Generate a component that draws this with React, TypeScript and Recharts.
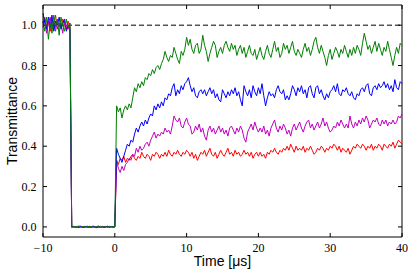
import React from 'react'
import {
  LineChart,
  Line,
  XAxis,
  YAxis,
  ReferenceLine,
} from 'recharts'

// sampling grid, 0.25 µs
const time = Array.from({ length: 201 }, (_, i) => -10 + i * 0.25)

const xTicks = [-10, 0, 10, 20, 30, 40]
const yTicks = [0, 0.2, 0.4, 0.6, 0.8, 1.0]
const xDomain = [-10, 40]
const yDomain = [-0.05, 1.1]

// before pulse (-10..-6.25), pulse (-6..0), recovery (0.25..40)
const green = [
  1.02, 0.97, 1.04, 0.93, 1.01, 0.96, 1.05, 0.99, 1.03, 0.95, 1.04, 1.0, 0.97, 1.03, 0.99, 1.01,
  0.002, -0.001, 0.001, 0.003, 0.0, -0.002, 0.001, 0.002, -0.001, 0.0, 0.003, 0.001, -0.002, 0.0, 0.002, 0.001,
  -0.001, 0.003, 0.0, 0.001, -0.002, 0.002, 0.0, 0.001, 0.0,
  0.6, 0.57, 0.59, 0.54, 0.58, 0.6, 0.58, 0.61,
  0.59, 0.64, 0.69, 0.67, 0.71, 0.69, 0.72, 0.7,
  0.74, 0.73, 0.76, 0.75, 0.78, 0.76, 0.79, 0.8,
  0.78, 0.81, 0.83, 0.87, 0.84, 0.82, 0.85, 0.84,
  0.89, 0.86, 0.83, 0.81, 0.87, 0.85, 0.88, 0.94,
  0.9, 0.93, 0.88, 0.86, 0.9, 0.91, 0.86, 0.88,
  0.95, 0.9, 0.87, 0.82, 0.86, 0.89, 0.92, 0.9,
  0.84, 0.87, 0.89, 0.86, 0.9, 0.92, 0.89, 0.87,
  0.91, 0.88, 0.9, 0.85, 0.88, 0.9, 0.86, 0.89,
  0.84, 0.87, 0.9, 0.86, 0.85, 0.88, 0.83, 0.86,
  0.89, 0.85, 0.83, 0.87, 0.9, 0.86, 0.84, 0.88,
  0.92, 0.87, 0.89, 0.84, 0.86, 0.91, 0.88, 0.9,
  0.86, 0.89, 0.92, 0.87, 0.85, 0.88, 0.86, 0.84,
  0.88, 0.91, 0.87, 0.89, 0.85, 0.88, 0.92, 0.94,
  0.89, 0.86, 0.9, 0.87, 0.84, 0.8, 0.85, 0.88,
  0.83, 0.86, 0.89, 0.87, 0.84, 0.88, 0.86, 0.9,
  0.87, 0.84, 0.88, 0.85, 0.89, 0.86, 0.9, 0.88,
  0.85, 0.91, 0.96, 0.92, 0.88, 0.9, 0.86, 0.89,
  0.92, 0.87, 0.91, 0.88, 0.85, 0.89, 0.87, 0.92,
  0.88, 0.84, 0.8, 0.85, 0.89, 0.86, 0.91, 0.9,
]

const blue = [
  1.06, 1.01, 0.98, 1.04, 0.99, 1.05, 0.97, 1.02, 1.0, 1.04, 0.98, 1.01, 1.03, 0.97, 1.0, 0.98,
  -0.003, 0.001, -0.002, 0.0, -0.004, 0.002, -0.001, -0.003, 0.001, -0.002, 0.0, -0.003, 0.001, -0.001, -0.004, 0.0,
  -0.002, 0.001, -0.003, -0.001, 0.002, -0.002, 0.0, -0.001, 0.0,
  0.39, 0.36, 0.34, 0.32, 0.35, 0.38, 0.41, 0.4,
  0.43, 0.42, 0.46, 0.49, 0.47, 0.5, 0.52, 0.5,
  0.53, 0.51, 0.54, 0.56, 0.55, 0.6, 0.58, 0.61,
  0.59, 0.62, 0.6, 0.64, 0.63, 0.66, 0.65, 0.69,
  0.71, 0.65, 0.68, 0.66, 0.7, 0.68, 0.71, 0.72,
  0.74, 0.7, 0.67, 0.69, 0.65, 0.64, 0.67, 0.68,
  0.66, 0.68, 0.65, 0.67, 0.69, 0.66, 0.68, 0.64,
  0.66, 0.63, 0.62, 0.68, 0.66, 0.64, 0.67, 0.65,
  0.68, 0.66, 0.69, 0.65, 0.67, 0.63, 0.6, 0.7,
  0.67, 0.65, 0.68, 0.64, 0.7, 0.67, 0.65, 0.69,
  0.66, 0.71, 0.65, 0.6, 0.64, 0.67, 0.65, 0.66,
  0.64, 0.68, 0.7, 0.67, 0.66, 0.68, 0.63, 0.65,
  0.63, 0.66, 0.7, 0.68, 0.65, 0.69, 0.67, 0.7,
  0.66, 0.68, 0.64, 0.69, 0.7, 0.66, 0.64, 0.69,
  0.7, 0.66, 0.68, 0.65, 0.63, 0.66, 0.64, 0.67,
  0.68, 0.7, 0.67, 0.71, 0.66, 0.65, 0.68, 0.67,
  0.69, 0.66, 0.65, 0.67, 0.64, 0.63, 0.66, 0.65,
  0.68, 0.69, 0.67, 0.7, 0.71, 0.66, 0.65, 0.69,
  0.7, 0.68, 0.71, 0.69, 0.7, 0.72, 0.69, 0.71,
  0.68, 0.7, 0.67, 0.73, 0.69, 0.68, 0.72, 0.71,
]

const magenta = [
  0.99, 1.03, 0.96, 1.01, 1.04, 0.98, 1.02, 0.97, 1.03, 0.99, 1.01, 0.96, 1.02, 1.0, 0.98, 1.01,
  0.004, 0.0, 0.002, -0.002, 0.005, 0.001, -0.001, 0.003, 0.0, 0.004, -0.002, 0.001, 0.003, -0.001, 0.002, 0.005,
  0.0, -0.002, 0.003, 0.001, 0.004, -0.001, 0.002, 0.0, 0.0,
  0.33, 0.29, 0.27, 0.3, 0.28, 0.31, 0.32, 0.34,
  0.33, 0.36, 0.35, 0.39, 0.37, 0.4, 0.38, 0.39,
  0.41, 0.42, 0.4, 0.43, 0.45, 0.47, 0.44, 0.46,
  0.45, 0.47, 0.46, 0.49, 0.47, 0.48, 0.46, 0.5,
  0.55, 0.53, 0.52, 0.54, 0.5, 0.49, 0.52, 0.54,
  0.51, 0.5, 0.46, 0.47, 0.5, 0.48, 0.51, 0.47,
  0.49, 0.45, 0.43, 0.48, 0.5, 0.47, 0.49, 0.46,
  0.48, 0.5, 0.47, 0.49, 0.46, 0.48, 0.45, 0.49,
  0.5, 0.48, 0.46, 0.49, 0.47, 0.5, 0.48, 0.44,
  0.42, 0.47, 0.49, 0.51, 0.48, 0.52, 0.49, 0.47,
  0.49, 0.47, 0.5, 0.46, 0.48, 0.45, 0.49, 0.51,
  0.53, 0.49, 0.47, 0.5, 0.48, 0.51, 0.49, 0.46,
  0.48, 0.45, 0.49, 0.51, 0.48, 0.5, 0.52, 0.49,
  0.47, 0.5, 0.52, 0.53, 0.49, 0.51, 0.48, 0.5,
  0.52, 0.49, 0.51, 0.54, 0.5, 0.52, 0.49, 0.47,
  0.48, 0.5, 0.49, 0.52, 0.5, 0.53, 0.51, 0.49,
  0.51, 0.49, 0.55, 0.51, 0.49, 0.52, 0.5, 0.53,
  0.51, 0.54, 0.52, 0.55, 0.53, 0.49, 0.51, 0.53,
  0.52, 0.54, 0.51, 0.5, 0.53, 0.51, 0.53, 0.5,
  0.52, 0.51, 0.53, 0.51, 0.52, 0.55, 0.54, 0.56,
]

const red = [
  1.01, 1.04, 0.99, 1.02, 0.97, 1.03, 1.0, 1.05, 0.98, 1.01, 0.99, 1.03, 1.0, 0.98, 1.02, 0.99,
  0.001, 0.003, -0.001, 0.002, 0.0, 0.004, -0.002, 0.001, 0.003, 0.0, -0.001, 0.002, 0.004, 0.0, 0.001, -0.002,
  0.003, 0.001, 0.0, 0.002, -0.001, 0.003, 0.001, 0.0, 0.0,
  0.33, 0.31, 0.34, 0.33, 0.35, 0.32, 0.34, 0.33,
  0.35, 0.36, 0.34, 0.33, 0.35, 0.34, 0.37, 0.35,
  0.34, 0.36, 0.35, 0.33, 0.36, 0.35, 0.37, 0.36,
  0.34, 0.36, 0.35, 0.37, 0.35, 0.38, 0.36, 0.35,
  0.37, 0.36, 0.38, 0.36, 0.35, 0.37, 0.36, 0.38,
  0.37, 0.35, 0.37, 0.34, 0.36, 0.33, 0.35, 0.37,
  0.36, 0.38, 0.35, 0.37, 0.39, 0.36, 0.35, 0.37,
  0.34, 0.36, 0.38, 0.36, 0.35, 0.37, 0.39, 0.36,
  0.37, 0.35, 0.38, 0.36, 0.37, 0.35, 0.36, 0.38,
  0.36, 0.37, 0.35, 0.37, 0.34, 0.36, 0.37, 0.35,
  0.37, 0.35, 0.36, 0.34, 0.37, 0.36, 0.38, 0.37,
  0.39, 0.37, 0.36, 0.38, 0.37, 0.39, 0.38, 0.4,
  0.38, 0.41, 0.39, 0.37, 0.4, 0.38, 0.39, 0.38,
  0.4, 0.37, 0.39, 0.38, 0.4, 0.38, 0.36, 0.37,
  0.39, 0.38, 0.4, 0.39, 0.37, 0.39, 0.38, 0.4,
  0.39, 0.41, 0.4, 0.38, 0.4, 0.37, 0.39, 0.38,
  0.37, 0.39, 0.36, 0.38, 0.4, 0.39, 0.41, 0.4,
  0.39, 0.41, 0.4, 0.38, 0.4, 0.39, 0.41, 0.38,
  0.4, 0.39, 0.41, 0.4, 0.38, 0.41, 0.4, 0.39,
  0.41, 0.4, 0.42, 0.39, 0.41, 0.43, 0.42, 0.41,
]

const data = time.map((t, i) => ({
  t,
  green: green[i],
  blue: blue[i],
  magenta: magenta[i],
  red: red[i],
}))

const labelFont = { fontSize: 14, fill: '#000', fontFamily: 'Liberation Sans' }
const serif = 'Liberation Serif'

// inward tick length, in data units (about 4px each way)
const xTickLen = 0.56
const yTickLen = 0.02

const fmtX = (v: number) => (v < 0 ? `\u2212${Math.abs(v)}` : String(v))

function BottomLabel({ x, y, payload }: any) {
  return (
    <text x={x} y={y} dy="0.71em" textAnchor="middle" fontFamily={serif} fontSize={12} fill="#000">
      {fmtX(payload.value)}
    </text>
  )
}

function LeftLabel({ x, y, payload }: any) {
  return (
    <text x={x} y={y} dy="0.355em" textAnchor="end" fontFamily={serif} fontSize={12} fill="#000">
      {Number(payload.value).toFixed(1)}
    </text>
  )
}

export default function App() {
  return (
    <div style={{ position: 'fixed', left: 0, top: 0, background: '#fff' }}>
      <LineChart width={415} height={277} data={data} margin={{ top: 5, right: 13, left: 0, bottom: 0 }}>
        <XAxis
          dataKey="t"
          type="number"
          domain={xDomain}
          ticks={xTicks}
          tickSize={0}
          tickMargin={6.5}
          height={40}
          tick={<BottomLabel />}
          tickLine={false}
          axisLine={{ stroke: '#000' }}
          label={{ value: 'Time [\u03bcs]', position: 'insideBottom', offset: 11, ...labelFont }}
        />
        <YAxis
          type="number"
          domain={yDomain}
          ticks={yTicks}
          tickSize={0}
          tickMargin={6.5}
          width={43}
          tick={<LeftLabel />}
          tickLine={false}
          axisLine={{ stroke: '#000' }}
          label={{
            value: 'Transmittance',
            angle: -90,
            position: 'insideLeft',
            offset: 12,
            textAnchor: 'middle',
            style: { textAnchor: 'middle' },
            ...labelFont,
          }}
        />
        {/* frame: top and right spines */}
        <ReferenceLine y={yDomain[1]} stroke="#000" strokeWidth={1} />
        <ReferenceLine x={xDomain[1]} stroke="#000" strokeWidth={1} />
        {xTicks.map((t) => (
          <ReferenceLine
            key={`xb${t}`}
            segment={[{ x: t, y: yDomain[0] }, { x: t, y: yDomain[0] + yTickLen }]}
            stroke="#000"
          />
        ))}
        {xTicks.map((t) => (
          <ReferenceLine
            key={`xt${t}`}
            segment={[{ x: t, y: yDomain[1] }, { x: t, y: yDomain[1] - yTickLen }]}
            stroke="#000"
          />
        ))}
        {yTicks.map((v) => (
          <ReferenceLine
            key={`yl${v}`}
            segment={[{ x: xDomain[0], y: v }, { x: xDomain[0] + xTickLen, y: v }]}
            stroke="#000"
          />
        ))}
        {yTicks.map((v) => (
          <ReferenceLine
            key={`yr${v}`}
            segment={[{ x: xDomain[1], y: v }, { x: xDomain[1] - xTickLen, y: v }]}
            stroke="#000"
          />
        ))}
        <ReferenceLine y={1} stroke="#000" strokeDasharray="5 3" strokeWidth={1} />
        <Line dataKey="red" stroke="#ff0000" strokeWidth={1} dot={false} isAnimationActive={false} />
        <Line dataKey="magenta" stroke="#bf00bf" strokeWidth={1} dot={false} isAnimationActive={false} />
        <Line dataKey="blue" stroke="#0000ff" strokeWidth={1} dot={false} isAnimationActive={false} />
        <Line dataKey="green" stroke="#008000" strokeWidth={1} dot={false} isAnimationActive={false} />
      </LineChart>
    </div>
  )
}
